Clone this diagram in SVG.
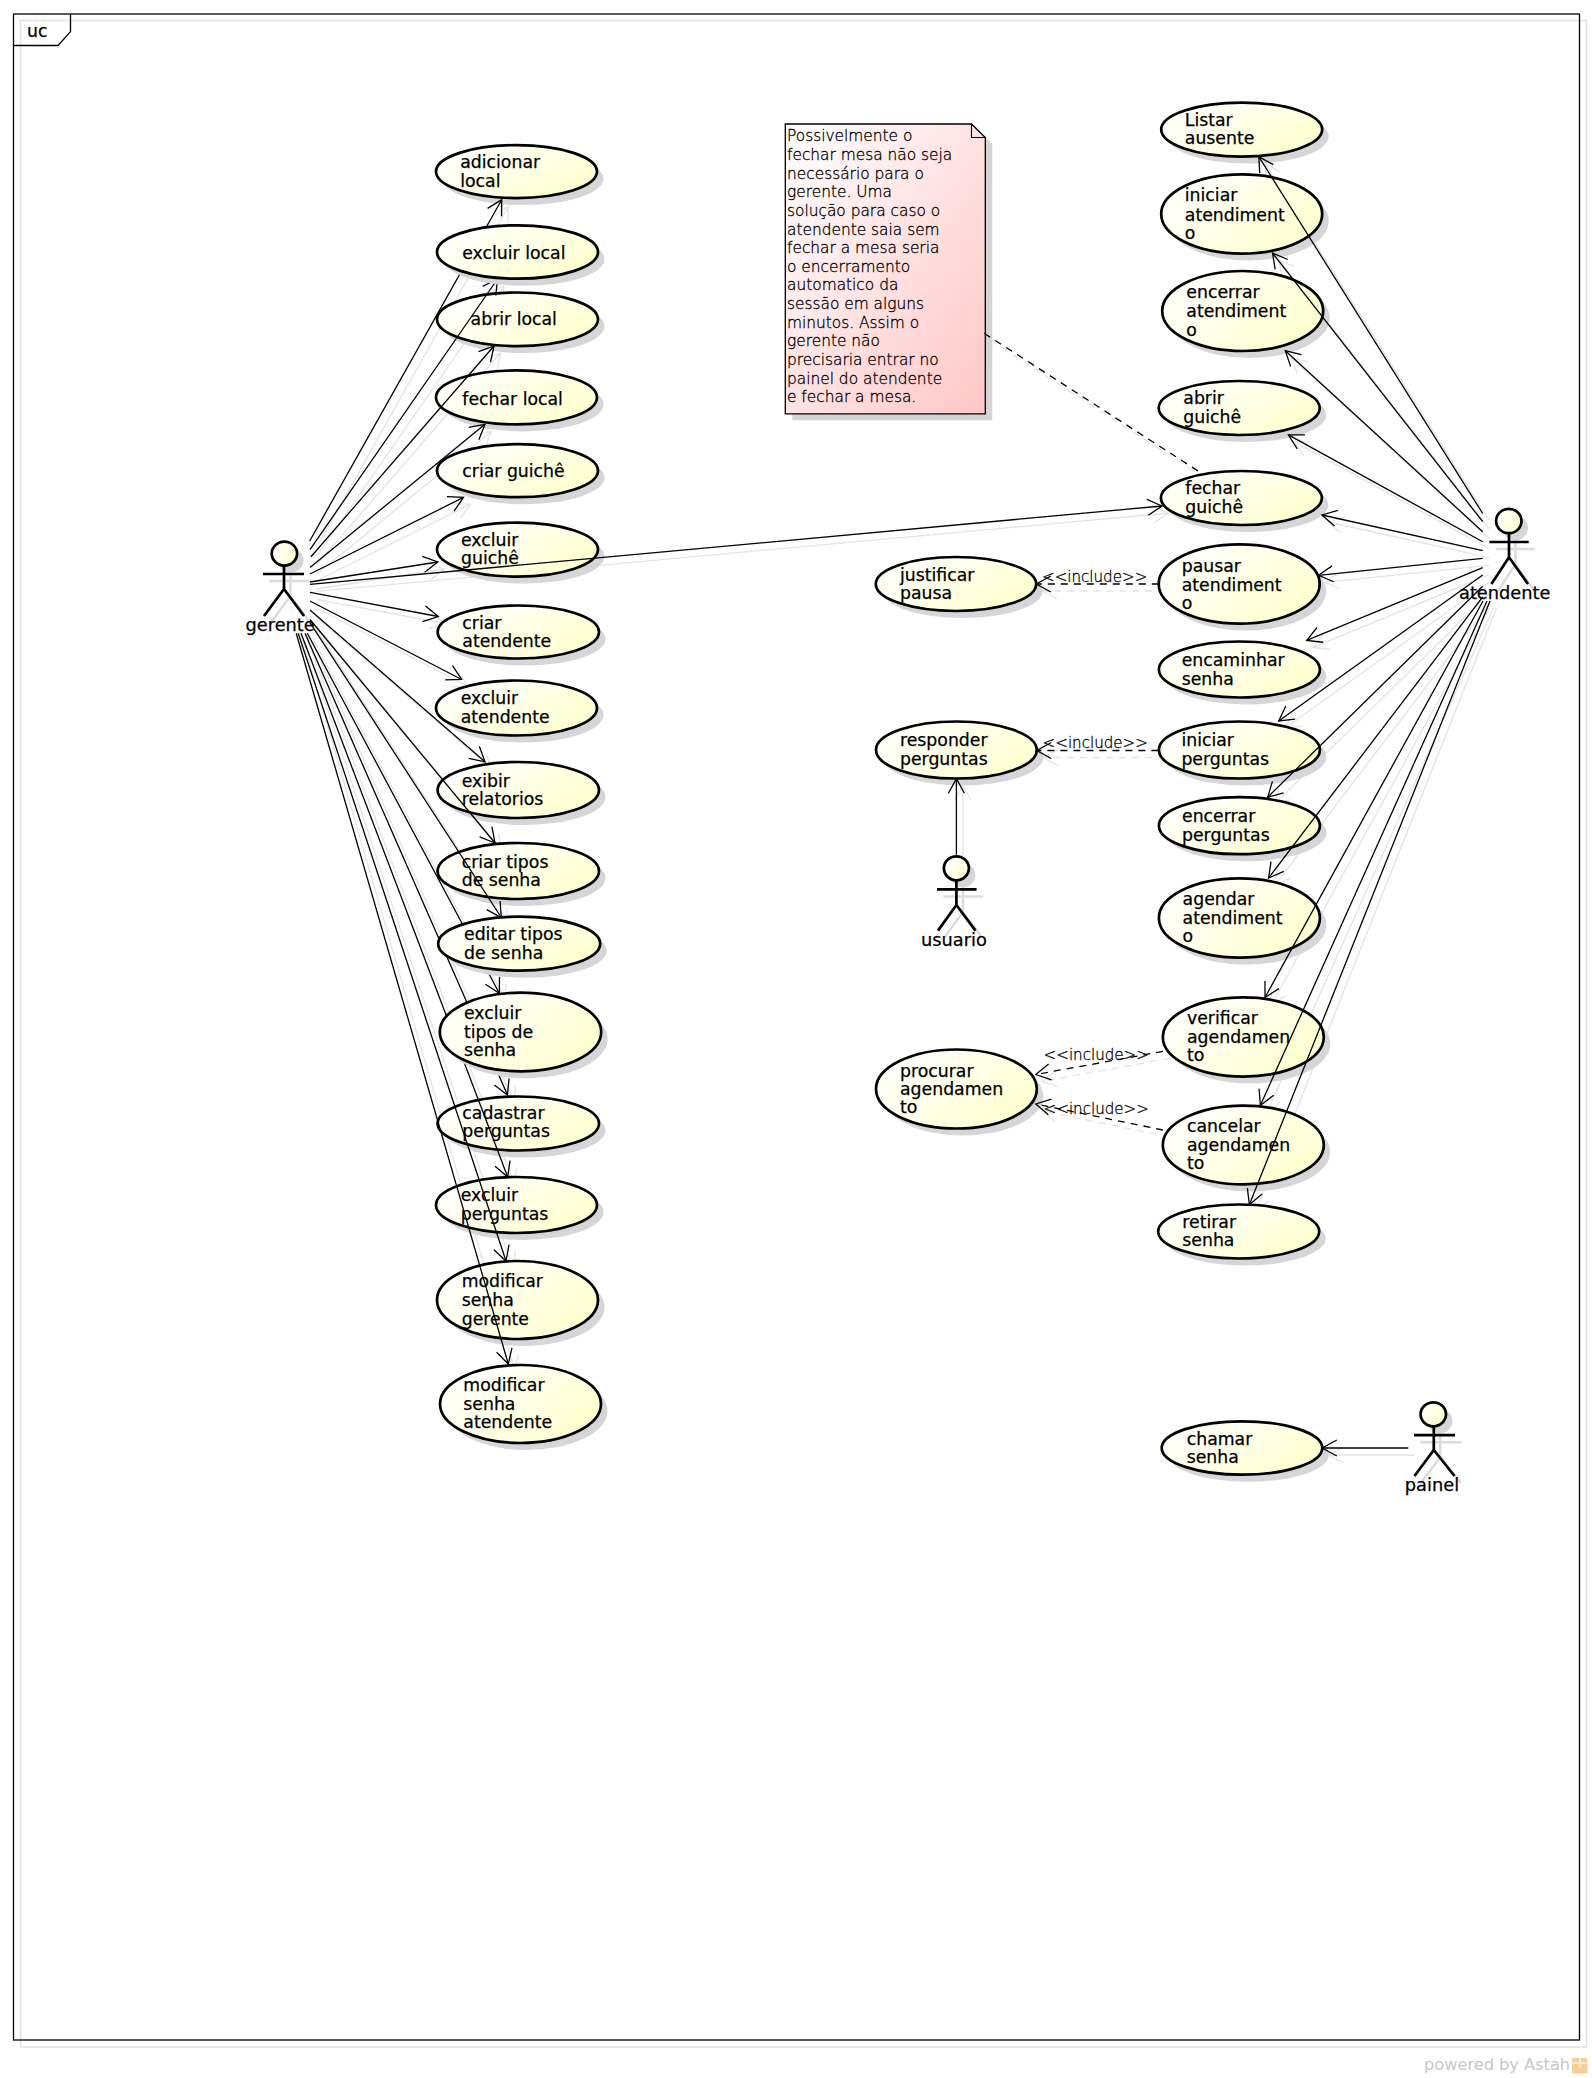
<svg xmlns="http://www.w3.org/2000/svg" width="1592" height="2078" viewBox="0 0 1592 2078">
<style>
text{font-family:"DejaVu Sans","Liberation Sans",sans-serif;font-size:17.3px;fill:#000;stroke:#000;stroke-width:.25}
.uc{fill:url(#ucFill);stroke:#000;stroke-width:2.7}
.sh{fill:#d6d6d6;stroke:none;transform:translate(6.5px,7px)}
.act{fill:none;stroke:#000;stroke-width:2.7}
.acts{fill:none;stroke:#dcdcdc;stroke-width:2.5;transform:translate(6.5px,7px)}
.head{fill:url(#ucFill);stroke:#000;stroke-width:2.7}
.heads{fill:#d6d6d6;stroke:none;transform:translate(6.5px,7px)}
.lbl{font-weight:200;font-size:15.1px;fill:#000;stroke:#000;stroke-width:.3}
.note{font-weight:200;font-size:15.4px;fill:#000;stroke:#000;stroke-width:.3}
.actor{font-size:17.8px}
.dash{stroke-dasharray:7 6}
</style>
<defs>
<linearGradient id="ucFill" x1="0" y1="0" x2="1" y2="0.6"><stop offset="0.1" stop-color="#ffffff"/><stop offset="1" stop-color="#ffffd0"/></linearGradient>
<linearGradient id="noteFill" x1="0" y1="0" x2="1" y2="1"><stop offset="0" stop-color="#ffffff"/><stop offset="1" stop-color="#ffc6c6"/></linearGradient>
<marker id="arrow" markerUnits="userSpaceOnUse" markerWidth="20" markerHeight="20" refX="0" refY="0" orient="auto" overflow="visible"><path d="M-14.5,-8 L0,0 L-14.5,8" fill="none" stroke="#000" stroke-width="1.3"/></marker>
<marker id="arrowS" markerUnits="userSpaceOnUse" markerWidth="20" markerHeight="20" refX="0" refY="0" orient="auto" overflow="visible"><path d="M-14.5,-8 L0,0 L-14.5,8" fill="none" stroke="#e4e4e4" stroke-width="1.3"/></marker>
</defs>
<rect width="1592" height="2078" fill="#fff"/>
<rect x="20.5" y="20.5" width="1566" height="2026.5" fill="none" stroke="#e2e2e2" stroke-width="1.5"/>
<g id="frame">
<rect x="13.5" y="14" width="1566" height="2026" fill="none" stroke="#000" stroke-width="1.3"/>
<path d="M13.5,45.5 H58 L70.5,31.6 V14" fill="none" stroke="#000" stroke-width="1.3"/>
<text x="27" y="36.5">uc</text>
</g>
<use href="#links" transform="translate(6.5,7)" stroke="#e4e4e4" stroke-width="1.3" fill="none" marker-end="url(#arrowS)"/>

<g id="note-1">
<path d="M785.3,124 H971.5 L985.3,137.5 V413.8 H785.3 Z" fill="#d4d4d4" transform="translate(7,6.5)"/>
<path d="M785.3,124 H971.5 L985.3,137.5 V413.8 H785.3 Z" fill="url(#noteFill)" stroke="#000" stroke-width="1.3"/>
<path d="M971.5,124 V137.5 H985.3" fill="none" stroke="#000" stroke-width="1.1"/>
<text class="note"><tspan x="787" y="141.3">Possivelmente o</tspan><tspan x="787" y="160">fechar mesa não seja</tspan><tspan x="787" y="178.6">necessário para o</tspan><tspan x="787" y="197.2">gerente. Uma</tspan><tspan x="787" y="215.9">solução para caso o</tspan><tspan x="787" y="234.5">atendente saia sem</tspan><tspan x="787" y="253.1">fechar a mesa seria</tspan><tspan x="787" y="271.8">o encerramento</tspan><tspan x="787" y="290.4">automatico da</tspan><tspan x="787" y="309">sessão em alguns</tspan><tspan x="787" y="327.7">minutos. Assim o</tspan><tspan x="787" y="346.3">gerente não</tspan><tspan x="787" y="364.9">precisaria entrar no</tspan><tspan x="787" y="383.6">painel do atendente</tspan><tspan x="787" y="402.2">e fechar a mesa.</tspan></text>
</g>

<g id="uc-adicionar-local"><ellipse class="sh" cx="516.5" cy="171.6" rx="80.5" ry="26.5"/><ellipse class="uc" cx="516.5" cy="171.6" rx="80.5" ry="26.5"/><text><tspan x="460.2" y="168.4">adicionar</tspan><tspan x="460.2" y="187.4">local</tspan></text></g>
<g id="uc-abrir-local"><ellipse class="sh" cx="517.5" cy="319.3" rx="80.5" ry="26.8"/><ellipse class="uc" cx="517.5" cy="319.3" rx="80.5" ry="26.8"/><text x="470.6" y="325.4">abrir local</text></g>
<g id="uc-fechar-local"><ellipse class="sh" cx="516.5" cy="397.4" rx="80.5" ry="27"/><ellipse class="uc" cx="516.5" cy="397.4" rx="80.5" ry="27"/><text x="462.3" y="404.5">fechar local</text></g>
<g id="uc-criar-guiche"><ellipse class="sh" cx="517.5" cy="470.7" rx="80.5" ry="26.5"/><ellipse class="uc" cx="517.5" cy="470.7" rx="80.5" ry="26.5"/><text x="462.3" y="477.3">criar guichê</text></g>
<g id="uc-excluir-guiche"><ellipse class="sh" cx="517.5" cy="549.6" rx="80.5" ry="27"/><ellipse class="uc" cx="517.5" cy="549.6" rx="80.5" ry="27"/><text><tspan x="461" y="546">excluir</tspan><tspan x="461" y="564">guichê</tspan></text></g>
<g id="uc-criar-atendente"><ellipse class="sh" cx="518.3" cy="632" rx="80.7" ry="26.5"/><ellipse class="uc" cx="518.3" cy="632" rx="80.7" ry="26.5"/><text><tspan x="462.3" y="628.5">criar</tspan><tspan x="462.3" y="647">atendente</tspan></text></g>
<g id="uc-excluir-atendente"><ellipse class="sh" cx="516.5" cy="708" rx="80.5" ry="27.5"/><ellipse class="uc" cx="516.5" cy="708" rx="80.5" ry="27.5"/><text><tspan x="460.7" y="704">excluir</tspan><tspan x="460.7" y="723">atendente</tspan></text></g>
<g id="uc-exibir-relatorios"><ellipse class="sh" cx="518.3" cy="790" rx="80.7" ry="28"/><ellipse class="uc" cx="518.3" cy="790" rx="80.7" ry="28"/><text><tspan x="461.7" y="786.5">exibir</tspan><tspan x="461.7" y="805">relatorios</tspan></text></g>
<g id="uc-criar-tipos"><ellipse class="sh" cx="518.3" cy="871" rx="80.7" ry="28"/><ellipse class="uc" cx="518.3" cy="871" rx="80.7" ry="28"/><text><tspan x="461.7" y="867.7">criar tipos</tspan><tspan x="461.7" y="886.3">de senha</tspan></text></g>
<g id="uc-cadastrar-perguntas"><ellipse class="sh" cx="518.3" cy="1123.5" rx="80.7" ry="27"/><ellipse class="uc" cx="518.3" cy="1123.5" rx="80.7" ry="27"/><text><tspan x="462.3" y="1118.5">cadastrar</tspan><tspan x="462.3" y="1137">perguntas</tspan></text></g>
<g id="uc-excluir-perguntas"><ellipse class="sh" cx="516.5" cy="1205" rx="80.5" ry="28"/><ellipse class="uc" cx="516.5" cy="1205" rx="80.5" ry="28"/><text><tspan x="460.7" y="1201">excluir</tspan><tspan x="460.7" y="1220">perguntas</tspan></text></g>
<g id="uc-modificar-gerente"><ellipse class="sh" cx="517.5" cy="1300" rx="80.5" ry="39"/><ellipse class="uc" cx="517.5" cy="1300" rx="80.5" ry="39"/><text><tspan x="461.7" y="1287.3">modificar</tspan><tspan x="461.7" y="1306">senha</tspan><tspan x="461.7" y="1324.5">gerente</tspan></text></g>
<g id="uc-modificar-atendente"><ellipse class="sh" cx="520.5" cy="1404" rx="80.5" ry="39"/><ellipse class="uc" cx="520.5" cy="1404" rx="80.5" ry="39"/><text><tspan x="463.3" y="1391">modificar</tspan><tspan x="463.3" y="1409.7">senha</tspan><tspan x="463.3" y="1428.3">atendente</tspan></text></g>

<g id="uc-listar-ausente"><ellipse class="sh" cx="1241.7" cy="129.6" rx="80.5" ry="27"/><ellipse class="uc" cx="1241.7" cy="129.6" rx="80.5" ry="27"/><text><tspan x="1184.8" y="126">Listar</tspan><tspan x="1184.8" y="144">ausente</tspan></text></g>
<g id="uc-iniciar-atendimento"><ellipse class="sh" cx="1241.7" cy="214" rx="80.5" ry="39.6"/><ellipse class="uc" cx="1241.7" cy="214" rx="80.5" ry="39.6"/><text><tspan x="1184.8" y="201.4">iniciar</tspan><tspan x="1184.8" y="220.5">atendiment</tspan><tspan x="1184.8" y="239">o</tspan></text></g>
<g id="uc-encerrar-atendimento"><ellipse class="sh" cx="1242.7" cy="311" rx="80.5" ry="40"/><ellipse class="uc" cx="1242.7" cy="311" rx="80.5" ry="40"/><text><tspan x="1186.3" y="298.2">encerrar</tspan><tspan x="1186.3" y="317.4">atendiment</tspan><tspan x="1186.3" y="336">o</tspan></text></g>
<g id="uc-abrir-guiche"><ellipse class="sh" cx="1239.2" cy="408" rx="80.5" ry="27"/><ellipse class="uc" cx="1239.2" cy="408" rx="80.5" ry="27"/><text><tspan x="1183.3" y="404.2">abrir</tspan><tspan x="1183.3" y="423">guichê</tspan></text></g>
<g id="uc-fechar-guiche"><ellipse class="sh" cx="1241.4" cy="498" rx="80.5" ry="27"/><ellipse class="uc" cx="1241.4" cy="498" rx="80.5" ry="27"/><text><tspan x="1185.3" y="494">fechar</tspan><tspan x="1185.3" y="513">guichê</tspan></text></g>
<g id="uc-pausar-atendimento"><ellipse class="sh" cx="1239.2" cy="584" rx="80.5" ry="39.6"/><ellipse class="uc" cx="1239.2" cy="584" rx="80.5" ry="39.6"/><text><tspan x="1181.7" y="571.5">pausar</tspan><tspan x="1181.7" y="590.6">atendiment</tspan><tspan x="1181.7" y="609.4">o</tspan></text></g>
<g id="uc-justificar-pausa"><ellipse class="sh" cx="956" cy="584" rx="80.2" ry="27"/><ellipse class="uc" cx="956" cy="584" rx="80.2" ry="27"/><text><tspan x="900" y="581">justificar</tspan><tspan x="900" y="599.4">pausa</tspan></text></g>
<g id="uc-encaminhar-senha"><ellipse class="sh" cx="1239.4" cy="669.5" rx="80.5" ry="28"/><ellipse class="uc" cx="1239.4" cy="669.5" rx="80.5" ry="28"/><text><tspan x="1181.7" y="666.4">encaminhar</tspan><tspan x="1181.7" y="684.5">senha</tspan></text></g>
<g id="uc-responder-perguntas"><ellipse class="sh" cx="956.4" cy="750" rx="80.4" ry="28.5"/><ellipse class="uc" cx="956.4" cy="750" rx="80.4" ry="28.5"/><text><tspan x="900" y="746.3">responder</tspan><tspan x="900" y="765.2">perguntas</tspan></text></g>
<g id="uc-iniciar-perguntas"><ellipse class="sh" cx="1239.4" cy="750" rx="80.5" ry="28.5"/><ellipse class="uc" cx="1239.4" cy="750" rx="80.5" ry="28.5"/><text><tspan x="1181.4" y="746.3">iniciar</tspan><tspan x="1181.4" y="765.2">perguntas</tspan></text></g>
<g id="uc-encerrar-perguntas"><ellipse class="sh" cx="1239.4" cy="825.7" rx="80.5" ry="28.5"/><ellipse class="uc" cx="1239.4" cy="825.7" rx="80.5" ry="28.5"/><text><tspan x="1182" y="822.4">encerrar</tspan><tspan x="1182" y="841.4">perguntas</tspan></text></g>
<g id="uc-agendar-atendimento"><ellipse class="sh" cx="1239.4" cy="918" rx="80.5" ry="39.7"/><ellipse class="uc" cx="1239.4" cy="918" rx="80.5" ry="39.7"/><text><tspan x="1182.6" y="905.3">agendar</tspan><tspan x="1182.6" y="923.9">atendiment</tspan><tspan x="1182.6" y="942.4">o</tspan></text></g>
<g id="uc-verificar-agendamento"><ellipse class="sh" cx="1243.3" cy="1037" rx="80.5" ry="39.6"/><ellipse class="uc" cx="1243.3" cy="1037" rx="80.5" ry="39.6"/><text><tspan x="1187" y="1024">verificar</tspan><tspan x="1187" y="1042.5">agendamen</tspan><tspan x="1187" y="1061">to</tspan></text></g>
<g id="uc-cancelar-agendamento"><ellipse class="sh" cx="1243.3" cy="1145" rx="80.5" ry="39.4"/><ellipse class="uc" cx="1243.3" cy="1145" rx="80.5" ry="39.4"/><text><tspan x="1187" y="1132.2">cancelar</tspan><tspan x="1187" y="1150.5">agendamen</tspan><tspan x="1187" y="1169.2">to</tspan></text></g>
<g id="uc-retirar-senha"><ellipse class="sh" cx="1238.7" cy="1231.5" rx="80.5" ry="27"/><ellipse class="uc" cx="1238.7" cy="1231.5" rx="80.5" ry="27"/><text><tspan x="1182.3" y="1228.2">retirar</tspan><tspan x="1182.3" y="1246.2">senha</tspan></text></g>
<g id="uc-procurar-agendamento"><ellipse class="sh" cx="956.4" cy="1089" rx="80.4" ry="39.5"/><ellipse class="uc" cx="956.4" cy="1089" rx="80.4" ry="39.5"/><text><tspan x="900" y="1076.6">procurar</tspan><tspan x="900" y="1094.8">agendamen</tspan><tspan x="900" y="1113.3">to</tspan></text></g>
<g id="uc-chamar-senha"><ellipse class="sh" cx="1242" cy="1448" rx="80.3" ry="26.7"/><ellipse class="uc" cx="1242" cy="1448" rx="80.3" ry="26.7"/><text><tspan x="1186.7" y="1445.4">chamar</tspan><tspan x="1186.7" y="1463">senha</tspan></text></g>

<g id="actor-gerente"><path class="acts" d="M263,574 H304 M284,566 V589 M284,589 L264,616 M284,589 L304,616"/><ellipse class="heads" cx="284.4" cy="553.6" rx="12.7" ry="12"/><path class="act" d="M263,574 H304 M284,566 V589 M284,589 L264,616 M284,589 L304,616"/><ellipse class="head" cx="284.4" cy="553.6" rx="12.7" ry="12"/><text class="actor" x="245.5" y="630.7">gerente</text></g>
<g id="actor-atendente"><path class="acts" d="M1489.4,542 H1528.7 M1509,533 V557.3 M1509,557.3 L1491.4,584 M1509,557.3 L1528,584"/><ellipse class="heads" cx="1508.8" cy="521" rx="12.7" ry="12.2"/><path class="act" d="M1489.4,542 H1528.7 M1509,533 V557.3 M1509,557.3 L1491.4,584 M1509,557.3 L1528,584"/><ellipse class="head" cx="1508.8" cy="521" rx="12.7" ry="12.2"/><text class="actor" x="1459" y="598.7">atendente</text></g>
<g id="actor-usuario"><path class="acts" d="M937,889.4 H976.6 M956.4,880 V905 M956.4,905 L938,930.6 M956.4,905 L975.5,930.6"/><ellipse class="heads" cx="956.4" cy="868.3" rx="12.5" ry="12"/><path class="act" d="M937,889.4 H976.6 M956.4,880 V905 M956.4,905 L938,930.6 M956.4,905 L975.5,930.6"/><ellipse class="head" cx="956.4" cy="868.3" rx="12.5" ry="12"/><text class="actor" x="921" y="946">usuario</text></g>
<g id="actor-painel"><path class="acts" d="M1414,1435.2 H1455 M1433.8,1426 V1450 M1433.8,1450 L1414.5,1476 M1433.8,1450 L1454.5,1476"/><ellipse class="heads" cx="1433.3" cy="1414.3" rx="12.7" ry="12"/><path class="act" d="M1414,1435.2 H1455 M1433.8,1426 V1450 M1433.8,1450 L1414.5,1476 M1433.8,1450 L1454.5,1476"/><ellipse class="head" cx="1433.3" cy="1414.3" rx="12.7" ry="12"/><text class="actor" x="1404.8" y="1491">painel</text></g>

<g id="connectors" stroke="#000" stroke-width="1.3" fill="none" marker-end="url(#arrow)">
<g id="links">
<line x1="309.7" y1="541" x2="501.7" y2="199.7"/>
<line x1="310" y1="549.6" x2="497.5" y2="279"/>
<line x1="311" y1="556.7" x2="494" y2="346"/>
<line x1="310" y1="567.4" x2="485" y2="424.3"/>
<line x1="310" y1="574" x2="463.5" y2="497.4"/>
<line x1="310" y1="582" x2="437.8" y2="562"/>
<line x1="310" y1="584.4" x2="1162" y2="506"/>
<line x1="310" y1="592.3" x2="438.3" y2="616.5"/>
<line x1="310" y1="601" x2="461.7" y2="679.5"/>
<line x1="310" y1="610" x2="485" y2="761.8"/>
<line x1="310" y1="619.5" x2="495" y2="843"/>
<line x1="310" y1="622.6" x2="501.3" y2="917.5"/>
<line x1="307.3" y1="633.3" x2="499.3" y2="993.3"/>
<line x1="305" y1="633.3" x2="507.5" y2="1095"/>
<line x1="301" y1="633.3" x2="507.7" y2="1177"/>
<line x1="298.2" y1="633.3" x2="506" y2="1261"/>
<line x1="296.2" y1="633.3" x2="508.3" y2="1364"/>
<line x1="1482.7" y1="513.5" x2="1258.8" y2="156.6"/>
<line x1="1482.7" y1="521.7" x2="1272.5" y2="253"/>
<line x1="1482.7" y1="531.7" x2="1285.3" y2="350.7"/>
<line x1="1482.7" y1="541.7" x2="1288.4" y2="434.9"/>
<line x1="1482.7" y1="550.7" x2="1322" y2="515"/>
<line x1="1482.7" y1="558.3" x2="1318.5" y2="575.3"/>
<line x1="1482.7" y1="567.7" x2="1306.7" y2="640.4"/>
<line x1="1482.7" y1="575" x2="1278.7" y2="721"/>
<line x1="1482.7" y1="586.2" x2="1267.7" y2="797.2"/>
<line x1="1482.7" y1="596.8" x2="1268.6" y2="878"/>
<line x1="1483" y1="601" x2="1265" y2="997.5"/>
<line x1="1487" y1="601" x2="1260.4" y2="1105.3"/>
<line x1="1490" y1="601" x2="1249.4" y2="1204.6"/>
<line x1="956.4" y1="854.8" x2="956.4" y2="778.7"/>
<line x1="1408.3" y1="1448" x2="1322.3" y2="1448"/>
<line class="dash" x1="1158.8" y1="584" x2="1036.3" y2="584"/>
<line class="dash" x1="1158.4" y1="750.5" x2="1036.8" y2="750.5"/>
<line class="dash" x1="1163" y1="1051.4" x2="1035.8" y2="1074.5"/>
<line class="dash" x1="1163" y1="1130" x2="1035.8" y2="1104"/>
<line class="dash" x1="984.3" y1="333.4" x2="1199.6" y2="472" marker-end="none"/>
</g>
<g marker-end="none">
<text class="lbl" x="1042" y="582">&lt;&lt;include&gt;&gt;</text>
<text class="lbl" x="1042.6" y="748.4">&lt;&lt;include&gt;&gt;</text>
<text class="lbl" x="1043.6" y="1059.8">&lt;&lt;include&gt;&gt;</text>
<text class="lbl" x="1043.6" y="1113.7">&lt;&lt;include&gt;&gt;</text>
</g>
</g>

<g id="uc-excluir-local"><ellipse class="sh" cx="517.5" cy="252" rx="80.5" ry="26.7"/><ellipse class="uc" cx="517.5" cy="252" rx="80.5" ry="26.7"/><text x="462.3" y="259.4">excluir local</text></g>
<g id="uc-editar-tipos"><ellipse class="sh" cx="519.2" cy="943.7" rx="81" ry="27"/><ellipse class="uc" cx="519.2" cy="943.7" rx="81" ry="27"/><text><tspan x="464" y="940">editar tipos</tspan><tspan x="464" y="959">de senha</tspan></text></g>
<g id="uc-excluir-tipos"><ellipse class="sh" cx="520.5" cy="1032" rx="80.7" ry="39.3"/><ellipse class="uc" cx="520.5" cy="1032" rx="80.7" ry="39.3"/><text><tspan x="464" y="1019">excluir</tspan><tspan x="464" y="1037.7">tipos de</tspan><tspan x="464" y="1056">senha</tspan></text></g>

<g id="powered">
<text x="1424" y="2070" style="font-size:16.2px;fill:#c8c8c8;stroke:none">powered by Astah</text>
<rect x="1572" y="2058" width="15.5" height="15.5" fill="#f5cf98"/>
<path d="M1572,2063 H1587.5 M1580,2058 V2068" stroke="#fff" stroke-width="1.2"/>
</g>
</svg>
